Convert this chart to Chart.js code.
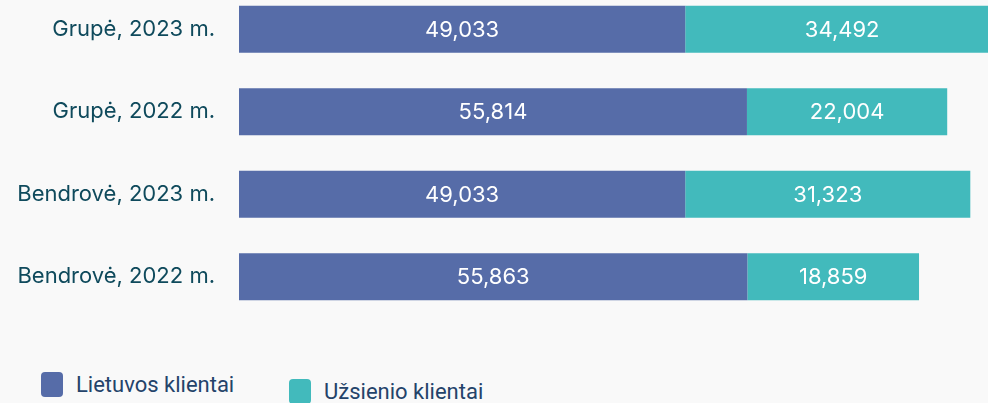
<!DOCTYPE html>
<html>
<head>
<meta charset="utf-8">
<script src="https://cdn.jsdelivr.net/npm/chart.js@4.4.1/dist/chart.umd.min.js"></script>
<style>
  html, body { margin: 0; padding: 0; background: #f9f9f9; }
  #wrap { position: relative; width: 988px; height: 403px; overflow: hidden; font-family: Roboto, sans-serif; }
  #box { position: absolute; left: 0; top: -12px; width: 988px; height: 330px; }
  .leg { position: absolute; display: flex; align-items: center; color: #24436a; font-size: 22px; }
  .sw { width: 22px; height: 25px; border-radius: 4px; margin-right: 13px; }
</style>
</head>
<body>
<div id="wrap">
  <div id="box"><canvas id="chart"></canvas></div>
  <div id="legend"></div>
</div>
<script>
let categories = ["Grupė, 2023 m.", "Grupė, 2022 m.", "Bendrovė, 2023 m.", "Bendrovė, 2022 m."];
let seriesNames = ["Lietuvos klientai", "Užsienio klientai"];
let lietuvos = [49033, 55814, 49033, 55863];
let uzsienio = [34492, 22004, 31323, 18859];
let colors = ["#566ca8", "#42babc"];

// white numbers in the middle of every segment
const barLabels = {
  id: "barLabels",
  afterDatasetsDraw(chart) {
    const ctx = chart.ctx;
    ctx.save();
    ctx.fillStyle = "#ffffff";
    ctx.font = "22px Inter";
    ctx.textAlign = "center";
    ctx.textBaseline = "middle";
    chart.data.datasets.forEach((ds, i) => {
      chart.getDatasetMeta(i).data.forEach((bar, j) => {
        let p = bar.getProps(["x", "y", "base"], true);
        ctx.fillText(ds.data[j].toLocaleString("en-US"), (p.x + p.base) / 2, p.y + 1);
      });
    });
    ctx.restore();
  }
};

new Chart(document.getElementById("chart"), {
  type: "bar",
  data: {
    labels: categories,
    datasets: [
      { label: seriesNames[0], data: lietuvos, backgroundColor: colors[0] },
      { label: seriesNames[1], data: uzsienio, backgroundColor: colors[1] }
    ]
  },
  options: {
    indexAxis: "y",
    responsive: true,
    maintainAspectRatio: false,
    animation: false,
    layout: { padding: 0 },
    datasets: { bar: { categoryPercentage: 1, barPercentage: 0.57 } },
    plugins: { legend: { display: false }, tooltip: { enabled: false } },
    scales: {
      x: { stacked: true, display: false, min: 0, max: 82300 },
      y: {
        stacked: true,
        grid: { display: false, drawTicks: false },
        border: { display: false },
        ticks: { color: "#0f4a5c", font: { family: "Inter", size: 22 }, padding: 24 },
        afterFit(scale) {
          scale.width = 239;
          scale.paddingTop = 0;
          scale.paddingBottom = 0;
        }
      }
    }
  },
  plugins: [barLabels]
});

// legend, two items, second one sits a bit lower
let legend = document.getElementById("legend");
let legPos = [[41, 372], [289, 379]];
seriesNames.forEach((name, i) => {
  let d = document.createElement("div");
  d.className = "leg";
  d.style.left = legPos[i][0] + "px";
  d.style.top = legPos[i][1] + "px";
  d.innerHTML = '<div class="sw" style="background:' + colors[i] + '"></div><span>' + name + '</span>';
  legend.appendChild(d);
});
</script>
</body>
</html>
